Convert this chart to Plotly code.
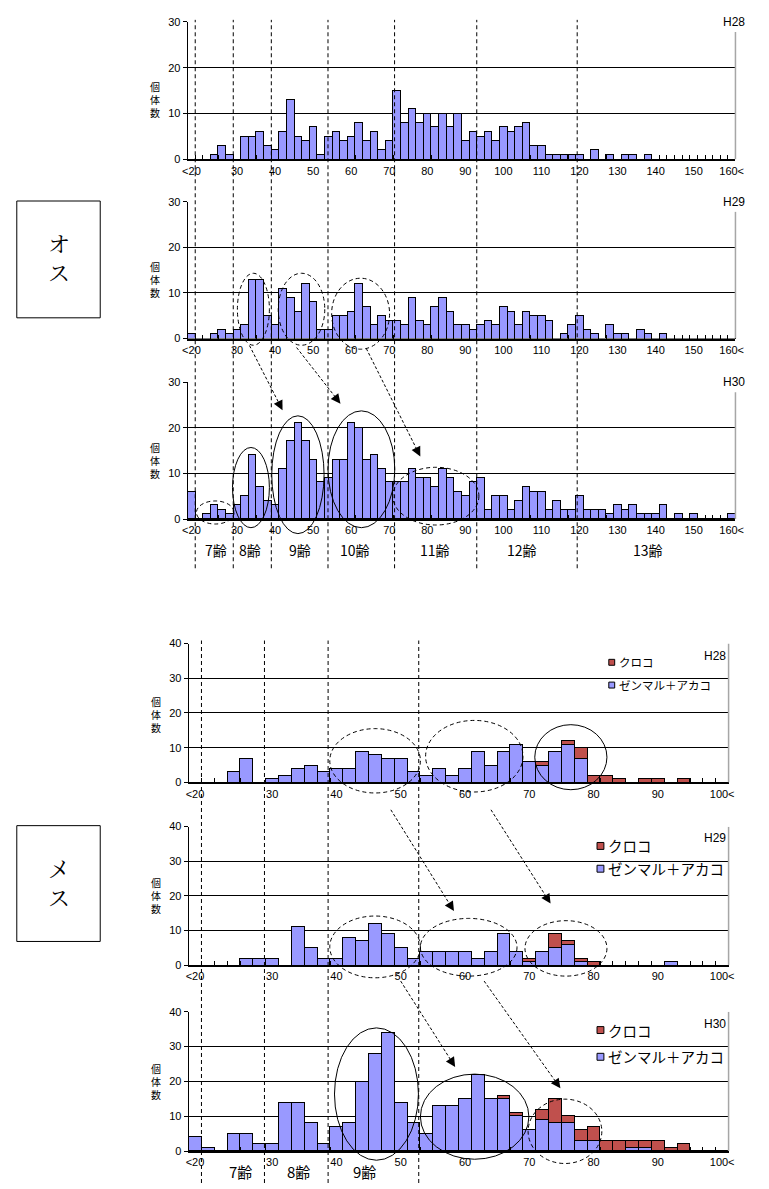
import plotly.graph_objects as go

W, H = 769, 1189

# ---------------- data ----------------
male_cats = ["<20"] + [str(v) for v in range(20, 160, 2)] + ["160<"]
female_cats = ["<20"] + [str(v) for v in range(20, 100, 2)] + ["100<"]

male_tick_labels = ["<20", "30", "40", "50", "60", "70", "80", "90", "100",
                    "110", "120", "130", "140", "150", "160<"]
female_tick_labels = ["<20", "30", "40", "50", "60", "70", "80", "90", "100<"]

years = ["H28", "H29", "H30"]

male_h28 = [0, 0, 0, 1, 3, 1, 0, 5, 5, 6,
            3, 2, 6, 13, 5, 4, 7, 1, 5, 6,
            4, 5, 8, 4, 6, 2, 4, 15, 8, 11,
            8, 10, 7, 10, 7, 10, 4, 6, 5, 6,
            4, 7, 6, 7, 8, 3, 3, 1, 1, 1,
            1, 1, 0, 2, 0, 1, 0, 1, 1, 0,
            1, 0, 0, 0, 0, 0, 0, 0, 0, 0,
            0, 0]
male_h29 = [1, 0, 0, 1, 2, 1, 2, 3, 13, 13,
            5, 3, 11, 9, 6, 12, 8, 2, 2, 5,
            5, 6, 12, 7, 3, 5, 4, 4, 3, 9,
            4, 3, 7, 9, 6, 3, 3, 2, 3, 4,
            3, 7, 6, 3, 6, 5, 5, 4, 0, 1,
            3, 5, 2, 1, 0, 3, 1, 1, 0, 2,
            1, 0, 1, 0, 0, 0, 0, 0, 0, 0,
            0, 0]
male_h30 = [6, 0, 1, 3, 2, 1, 3, 5, 14, 7,
            4, 3, 11, 17, 21, 17, 13, 8, 9, 13,
            13, 21, 20, 13, 14, 11, 8, 8, 8, 11,
            9, 9, 7, 11, 9, 6, 5, 8, 9, 2,
            5, 5, 2, 4, 7, 6, 6, 2, 4, 2,
            2, 5, 2, 2, 2, 1, 3, 2, 3, 1,
            1, 1, 3, 0, 1, 0, 1, 0, 0, 0,
            0, 1]

# female: ゼンマル＋アカコ (blue) and クロコ (red)
female_h28_zenmaru = [0, 0, 0, 3, 7, 0, 1, 2, 4, 5,
                      3, 4, 4, 9, 8, 7, 7, 3, 2, 4,
                      2, 4, 9, 5, 9, 11, 6, 5, 9, 11,
                      7, 0, 0, 0, 0, 0, 0, 0, 0, 0,
                      0, 0]
female_h28_kuroko = [0, 0, 0, 0, 0, 0, 0, 0, 0, 0,
                     0, 0, 0, 0, 0, 0, 0, 0, 0, 0,
                     0, 0, 0, 0, 0, 0, 0, 1, 0, 1,
                     3, 2, 2, 1, 0, 1, 1, 0, 1, 0,
                     0, 0]
female_h29_zenmaru = [0, 0, 0, 0, 2, 2, 2, 0, 11, 5,
                      2, 2, 8, 7, 12, 9, 5, 2, 4, 4,
                      4, 4, 2, 4, 9, 4, 1, 4, 5, 6,
                      1, 0, 0, 0, 0, 0, 0, 1, 0, 0,
                      0, 0]
female_h29_kuroko = [0, 0, 0, 0, 0, 0, 0, 0, 0, 0,
                     0, 0, 0, 0, 0, 0, 0, 0, 0, 0,
                     0, 0, 0, 0, 0, 0, 1, 0, 4, 1,
                     1, 1, 0, 0, 0, 0, 0, 0, 0, 0,
                     0, 0]
female_h30_zenmaru = [4, 1, 0, 5, 5, 2, 2, 14, 14, 8,
                      2, 7, 8, 20, 28, 34, 14, 8, 5, 13,
                      13, 15, 22, 15, 15, 10, 6, 9, 8, 8,
                      3, 3, 0, 0, 1, 1, 0, 0, 0, 0,
                      0, 0]
female_h30_kuroko = [0, 0, 0, 0, 0, 0, 0, 0, 0, 0,
                     0, 0, 0, 0, 0, 0, 0, 0, 0, 0,
                     0, 0, 0, 0, 1, 1, 0, 3, 7, 2,
                     3, 4, 3, 3, 2, 2, 3, 1, 2, 0,
                     0, 0]

male_series = [male_h28, male_h29, male_h30]
female_blue = [female_h28_zenmaru, female_h29_zenmaru, female_h30_zenmaru]
female_red = [female_h28_kuroko, female_h29_kuroko, female_h30_kuroko]

BLUE = "#9999FF"
RED = "#C0504D"
NUM_FONT = "Liberation Sans Narrow, Liberation Sans, Arial, sans-serif"
JP_FONT = "Noto Sans CJK JP, sans-serif"


def fx(x):
    return x / W


def fy(y):
    return 1 - y / H


def sfx(i):
    return "" if i == 1 else str(i)


def label(text, x, y, size, family=JP_FONT, xanchor="center", **kw):
    d = dict(text=text, xref="paper", yref="paper", x=fx(x), y=fy(y),
             xanchor=xanchor, yanchor="middle", showarrow=False,
             font=dict(size=size, family=family, color="black"))
    d.update(kw)
    return d


# panel geometry in page pixels
male_x = (186, 744)
male_y = [(16, 155), (197.7, 336), (380, 518.3)]
female_x = (187, 737)
female_y = [(644, 784.3), (829, 969), (1016, 1156.7)]

fig = go.Figure()
layout = dict(
    width=W, height=H, autosize=False,
    margin=dict(l=0, r=0, t=0, b=0),
    paper_bgcolor="white", plot_bgcolor="white",
    barmode="stack", bargap=0, showlegend=False,
    font=dict(family=NUM_FONT, size=11, color="black"),
)
shapes = []
annotations = []


def add_axes(i, cats, tick_labels, xr, yr, ymax):
    s = sfx(i)
    layout[f"xaxis{s}"] = dict(
        domain=[fx(xr[0]), fx(xr[1])], anchor=f"y{s}",
        range=[-0.5, len(cats) - 0.5],
        tickmode="array",
        tickvals=[cats.index(t) for t in tick_labels],
        ticktext=tick_labels, ticks="",
        showline=True, linecolor="black", linewidth=2,
        showgrid=False, zeroline=False, fixedrange=True,
        tickfont=dict(size=11, family=NUM_FONT),
        minor=dict(tickmode="linear", tick0=0.5, dtick=1, ticks="inside",
                   ticklen=4, tickcolor="black", showgrid=False),
    )
    layout[f"yaxis{s}"] = dict(
        domain=[fy(yr[1]), fy(yr[0])], anchor=f"x{s}",
        range=[0, ymax], tickmode="linear", tick0=0, dtick=10,
        showgrid=True, gridcolor="black", gridwidth=1,
        showline=True, linecolor="black", linewidth=1,
        ticks="outside", ticklen=4, tickcolor="black",
        zeroline=False, fixedrange=True,
        tickfont=dict(size=11, family=NUM_FONT),
    )


# ---- male panels ----
for j in range(3):
    i = j + 1
    s = sfx(i)
    add_axes(i, male_cats, male_tick_labels, male_x, male_y[j], 30)
    fig.add_trace(go.Bar(
        x=list(range(len(male_cats))), y=male_series[j],
        xaxis=f"x{s}", yaxis=f"y{s}", width=1,
        marker=dict(color=BLUE, line=dict(color="black", width=1)),
        hovertext=male_cats, name=years[j],
    ))
    # grey right border
    shapes.append(dict(type="line", xref=f"x{s} domain", yref=f"y{s}",
                       x0=1, x1=1, y0=0, y1=27.8,
                       line=dict(color="#A6A6A6", width=1.5)))
    annotations.append(label(years[j], 742.5, male_y[j][0], 12, NUM_FONT,
                             bgcolor="white", borderpad=2))
    annotations.append(label("個<br>体<br>数", 153, [94, 276, 459][j], 10))

# ---- female panels ----
for j in range(3):
    i = j + 4
    s = sfx(i)
    add_axes(i, female_cats, female_tick_labels, female_x, female_y[j], 40)
    idx = list(range(len(female_cats)))
    fig.add_trace(go.Bar(
        x=idx, y=female_blue[j], xaxis=f"x{s}", yaxis=f"y{s}", width=1,
        marker=dict(color=BLUE, line=dict(color="black", width=1)),
        name="ゼンマル＋アカコ", hovertext=female_cats,
    ))
    fig.add_trace(go.Bar(
        x=idx, y=female_red[j], xaxis=f"x{s}", yaxis=f"y{s}", width=1,
        marker=dict(color=RED, line=dict(color="black", width=1)),
        name="クロコ", hovertext=female_cats,
    ))
    shapes.append(dict(type="line", xref=f"x{s} domain", yref=f"y{s}",
                       x0=1, x1=1, y0=0, y1=40,
                       line=dict(color="#A6A6A6", width=1.5)))
    annotations.append(label(years[j], 723.6, [656.7, 840.7, 1028.3][j], 12, NUM_FONT))
    annotations.append(label("個<br>体<br>数", 154, [716, 899, 1086][j], 10))

# ---- female legends (square + text) ----
leg_specs = [  # square x0, red y, blue y, square size, text font size
    (615, 663, 686, 6, 11.5),
    (603, 848.5, 871.5, 7, 14.5),
    (603, 1034.5, 1061.5, 7, 14.5),
]
for (sx, ry, by, sz, fs) in leg_specs:
    for (cy, col, txt) in [(ry, RED, "クロコ"), (by, BLUE, "ゼンマル＋アカコ")]:
        shapes.append(dict(type="rect", xref="paper", yref="paper",
                           x0=fx(sx), x1=fx(sx + sz), y0=fy(cy + sz / 2), y1=fy(cy - sz / 2),
                           fillcolor=col, line=dict(color="black", width=1)))
        annotations.append(label(txt, sx + sz + 2, cy, fs, xanchor="left"))

# ---- vertical dashed guide lines ----
for xv in [0.5, 5.5, 10.5, 17.95, 26.7, 37.5, 50.7]:
    shapes.append(dict(type="line", xref="x3", yref="paper", x0=xv, x1=xv,
                       y0=fy(568), y1=fy(14),
                       line=dict(color="black", width=1, dash="4px,3px")))
for xv in [0.5, 5.4, 10.35, 17.4]:
    shapes.append(dict(type="line", xref="x6", yref="paper", x0=xv, x1=xv,
                       y0=0, y1=fy(641),
                       line=dict(color="black", width=1, dash="4px,3px")))

# ---- ellipses ----
ellipses = [
    # male H29 (dashed)
    (236.7, 270, 269.3, 342.7, "dash"), (278.3, 270, 325.7, 342.7, "dash"),
    (332.7, 275, 391.7, 346.7, "dash"),
    # male H30
    (195, 500, 233.3, 523.3, "dash"), (231.7, 446, 269.3, 527), (271.7, 414, 325, 533),
    (329, 409, 397, 527), (395, 466, 482.7, 524.3, "dash"),
    # female H28
    (330.8, 730, 423.1, 795, "dash"), (428.4, 721.7, 527.6, 794, "dash"),
    (539.6, 726, 613.1, 791.7),
    # female H29
    (330.8, 919.3, 423.1, 981.7, "dash"), (423.1, 921.7, 521.5, 980, "dash"),
    (529.6, 924, 613.1, 980, "dash"),
    # female H30
    (335.6, 1032.3, 421.1, 1166), (423.1, 1079, 533.6, 1165),
    (532.8, 1104.3, 607.9, 1169.3, "dash"),
]
for e in ellipses:
    dash = "4px,3px" if len(e) == 5 else "solid"
    shapes.append(dict(type="circle", xref="paper", yref="paper",
                       x0=fx(e[0]), x1=fx(e[2]), y0=fy(e[3]), y1=fy(e[1]),
                       line=dict(color="black", width=1, dash=dash)))

# ---- dashed arrows ----
arrows = [
    ((249, 343), (282.7, 408.3)),
    ((297, 345), (341.7, 401.7)),
    ((368, 346), (423, 455)),
    ((393, 812), (457.3, 914.3)),
    ((495, 812), (555.7, 906.7)),
    ((403, 985), (458.5, 1071.7)),
    ((488, 985), (565.7, 1093.3)),
]
for (sx, sy), (hx, hy) in arrows:
    dx, dy = hx - sx, hy - sy
    L = (dx * dx + dy * dy) ** 0.5
    ux, uy = dx / L, dy / L
    ex, ey = hx - 7 * ux, hy - 7 * uy
    shapes.append(dict(type="line", xref="paper", yref="paper",
                       x0=fx(sx), y0=fy(sy), x1=fx(ex), y1=fy(ey),
                       line=dict(color="black", width=1, dash="3px,2px")))
    annotations.append(dict(text="", xref="paper", yref="paper",
                            x=fx(hx), y=fy(hy), ax=-10 * ux, ay=-10 * uy,
                            showarrow=True, arrowhead=2, arrowsize=1.6,
                            arrowwidth=1.2, arrowcolor="black", standoff=0))

# ---- age labels ----
for txt, x in [("7齢", 215), ("8齢", 250), ("9齢", 300), ("10齢", 356),
               ("11齢", 438), ("12齢", 527), ("13齢", 655)]:
    annotations.append(label(txt, x, 550, 14))
for txt, x in [("7齢", 239.6), ("8齢", 298.7), ("9齢", 366)]:
    annotations.append(label(txt, x, 1177, 15))

# ---- sex boxes ----
for (x0, y0, x1, y1, t1, t2) in [(12, 197, 97, 315, "オ", "ス"),
                                  (12, 828, 97, 945, "メ", "ス")]:
    shapes.append(dict(type="rect", xref="paper", yref="paper",
                       x0=fx(x0), x1=fx(x1), y0=fy(y1), y1=fy(y0),
                       line=dict(color="black", width=1), fillcolor="rgba(0,0,0,0)"))
    annotations.append(label(f"{t1}<br>{t2}", (x0 + x1) / 2, (y0 + y1) / 2 - 2, 22,
                             family="Noto Serif CJK JP, Noto Sans CJK JP, serif"))

layout["shapes"] = shapes
layout["annotations"] = annotations
fig.update_layout(**layout)

fig.write_html("out.html",
               config={"displayModeBar": False},
               post_script="document.body.style.margin='0';document.body.style.overflow='hidden';")
